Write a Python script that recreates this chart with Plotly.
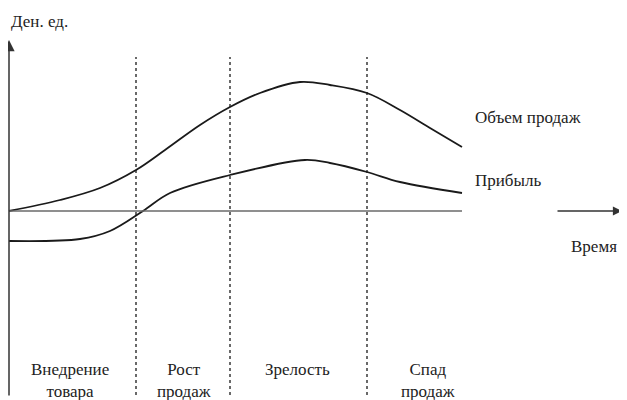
import plotly.graph_objects as go

# time axis (conventional units), curve values
t_sales = [0, 51, 91, 127, 156, 191, 221, 251, 291, 321, 358, 391, 421, 453]
sales = [0, 11, 23, 41, 61, 86, 104, 118, 129, 126, 118, 101, 83, 64]

t_profit = [0, 71, 101, 134, 161, 221, 296, 321, 358, 391, 453]
profit = [-30, -28, -20, 0, 18, 36, 51, 48, 39, 29, 18]

# stage boundaries and labels
stage_bounds = [127, 221, 358]
stage_labels = ['Внедрение<br>товара', 'Рост<br>продаж', 'Зрелость', 'Спад<br>продаж']
stage_x = [61, 175, 288, 419]

font = dict(family='Liberation Serif', size=17, color='#222')
ink = '#1a1a1a'

fig = go.Figure()
fig.add_trace(go.Scatter(x=t_sales, y=sales, mode='lines', line=dict(color=ink, width=1.8, shape='spline', smoothing=1)))
fig.add_trace(go.Scatter(x=t_profit, y=profit, mode='lines', line=dict(color=ink, width=1.8, shape='spline', smoothing=1)))

# zero line
fig.add_shape(type='line', x0=0, x1=453, y0=0, y1=0, line=dict(color='#6a6a6a', width=1.5))

# stage dividers
for b in stage_bounds:
    fig.add_shape(type='line', x0=b, x1=b, y0=-184, y1=154, line=dict(color=ink, width=1.3, dash='3px,3px'))

# axes arrows
fig.add_annotation(x=0, y=171, ax=0, ay=-186, axref='x', ayref='y', showarrow=True,
                   arrowhead=2, arrowsize=1.5, arrowwidth=1.5, arrowcolor='#333', text='')
fig.add_annotation(x=613, y=0, ax=547, ay=0, axref='x', ayref='y', showarrow=True,
                   arrowhead=2, arrowsize=1.4, arrowwidth=1.3, arrowcolor='#333', text='')

# texts
fig.add_annotation(x=-0.5, y=190, text='Ден. ед.', showarrow=False, xanchor='left', font=font)
fig.add_annotation(x=464, y=94, text='Объем продаж', showarrow=False, xanchor='left', font=font)
fig.add_annotation(x=464, y=31, text='Прибыль', showarrow=False, xanchor='left', font=font)
fig.add_annotation(x=610, y=-35, text='Время', showarrow=False, xanchor='right', font=font)

for lx, lab in zip(stage_x, stage_labels):
    fig.add_annotation(x=lx, y=-147, text=lab, showarrow=False, yanchor='top',
                       font=font, align='center')

# page body has an 8px margin, so ranges are shifted to keep marks in place
fig.update_layout(
    width=627, height=400,
    margin=dict(l=0, r=0, t=0, b=0),
    paper_bgcolor='white', plot_bgcolor='white',
    showlegend=False,
    xaxis=dict(range=[-1, 626], visible=False),
    yaxis=dict(range=[-197, 203], visible=False),
)

fig.write_html("out.html")
